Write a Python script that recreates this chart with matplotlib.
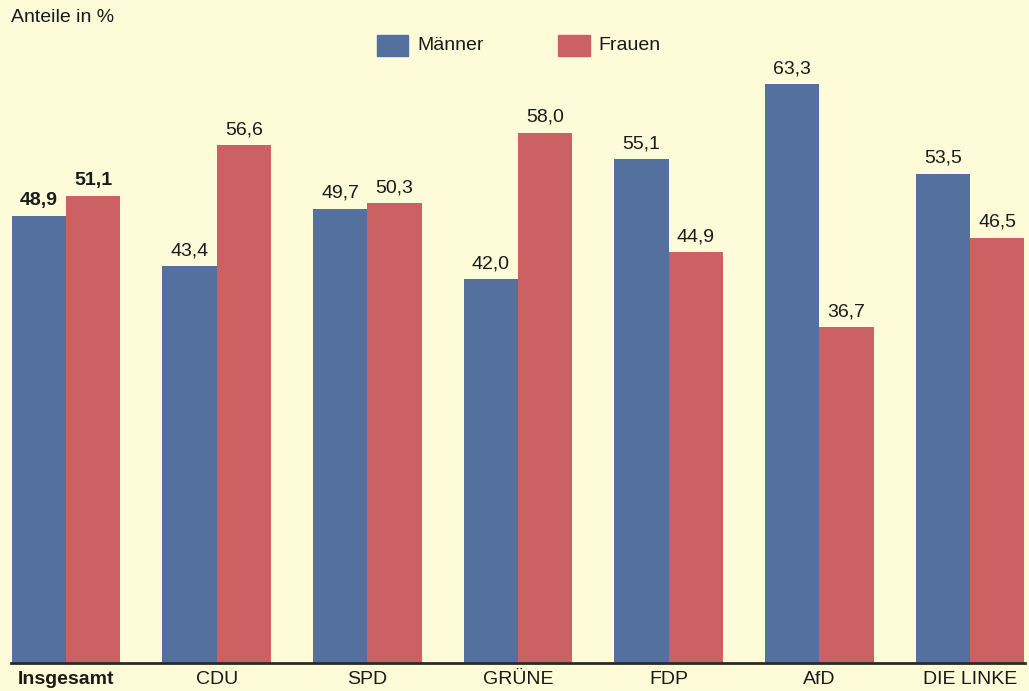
import matplotlib
matplotlib.use("Agg")
import matplotlib.pyplot as plt
import numpy as np
from matplotlib.patches import Rectangle

plt.rcParams['font.family'] = ['Liberation Sans', 'DejaVu Sans']

parteien = ['Insgesamt', 'CDU', 'SPD', 'GRÜNE', 'FDP', 'AfD', 'DIE LINKE']
maenner = [48.9, 43.4, 49.7, 42.0, 55.1, 63.3, 53.5]
frauen = [51.1, 56.6, 50.3, 58.0, 44.9, 36.7, 46.5]

bg = '#fefbd8'
blau = '#53709f'
rot = '#cc6164'
fs = 14

fig = plt.figure(figsize=(10.29, 6.91), dpi=100, facecolor=bg)
ax = fig.add_axes([11/1029, 28/691, 1014/1029, 663/691])
ax.set_facecolor(bg)

x = np.arange(len(parteien))
w = 0.36
ax.bar(x - w/2, maenner, w, color=blau)
ax.bar(x + w/2, frauen, w, color=rot)

for i in range(len(parteien)):
    fw = 'bold' if i == 0 else 'normal'
    ax.text(x[i] - w/2, maenner[i] + 0.75, f"{maenner[i]:.1f}".replace('.', ','),
            ha='center', va='bottom', fontsize=fs, fontweight=fw, color='#1a1a1a')
    ax.text(x[i] + w/2, frauen[i] + 0.75, f"{frauen[i]:.1f}".replace('.', ','),
            ha='center', va='bottom', fontsize=fs, fontweight=fw, color='#1a1a1a')

ax.set_xlim(-0.365, len(parteien) - 1 + 0.365)
ax.set_ylim(0, 72.5)
ax.set_xticks(x)
ax.set_xticklabels(parteien, fontsize=fs, color='#1a1a1a')
ax.get_xticklabels()[0].set_fontweight('bold')
ax.tick_params(axis='x', length=0, pad=6)
ax.set_yticks([])
for s in ['top', 'right', 'left']:
    ax.spines[s].set_visible(False)
ax.spines['bottom'].set_linewidth(2)
ax.spines['bottom'].set_color('#2a2a2a')

fig.text(11/1029, 1 - 18/691, 'Anteile in %', fontsize=fs, va='center', ha='left', color='#1a1a1a')

# legend
fig.patches.append(Rectangle((377/1029, 1 - 56/691), 31/1029, 21/691, color=blau,
                             transform=fig.transFigure, figure=fig))
fig.text(417/1029, 1 - 46/691, 'Männer', fontsize=fs, va='center', ha='left', color='#1a1a1a')
fig.patches.append(Rectangle((558/1029, 1 - 56/691), 32/1029, 21/691, color=rot,
                             transform=fig.transFigure, figure=fig))
fig.text(598/1029, 1 - 46/691, 'Frauen', fontsize=fs, va='center', ha='left', color='#1a1a1a')

fig.savefig('out.png', dpi=100, facecolor=bg)
